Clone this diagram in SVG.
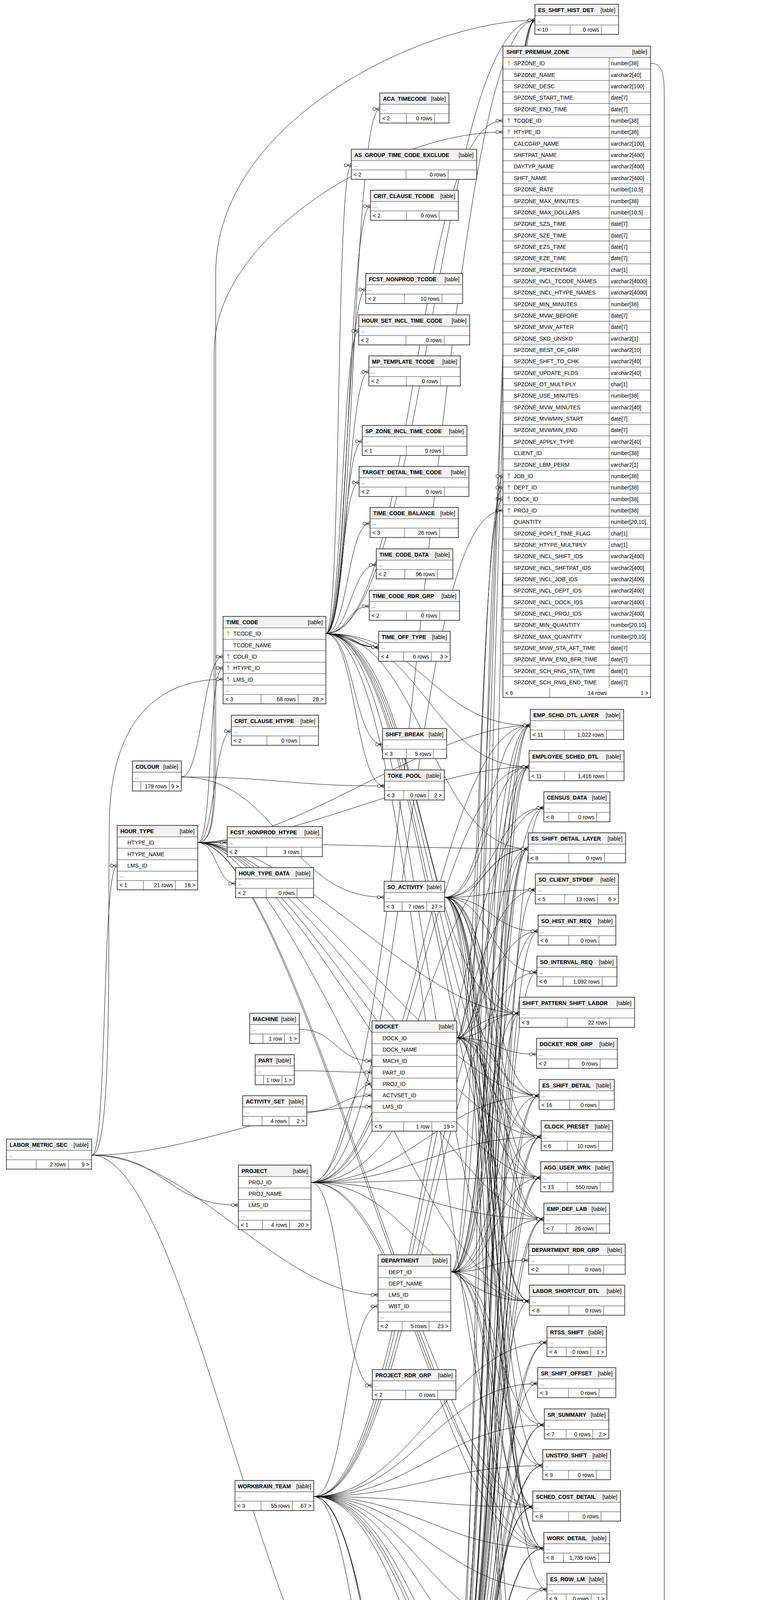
<svg xmlns="http://www.w3.org/2000/svg" width="1968" height="7233" viewBox="0 0 1968 7233">
<style>
.bx{fill:#fff}
.hd{fill:#f2f2f2}
.ln{fill:none;stroke:#333;stroke-width:1}
.ol{fill:none;stroke:#222;stroke-width:1.6}
text{font-family:"Liberation Sans",Arial,Helvetica,sans-serif;font-size:14px;fill:#000}
.b{font-weight:bold}
.r{text-anchor:end}
.d{font-size:12px}
.c{fill:none;stroke:#000;stroke-width:1;marker-end:url(#cf)}
.pk{color:#e2d200}
.fk{color:#a8a8a8}
</style>
<defs>
<marker id="cf" viewBox="-20 -7 21 14" refX="0" refY="0" markerWidth="21" markerHeight="14" markerUnits="userSpaceOnUse" orient="auto" overflow="visible">
<path d="M-10 0L0 -5M-10 0H0M-10 0L0 5" fill="none" stroke="#000" stroke-width="1"/>
<circle cx="-14" cy="0" r="4" fill="#fff" stroke="#000" stroke-width="1"/>
</marker>
<g id="key"><circle cx="0" cy="-3.5" r="3.2" fill="currentColor"/><path d="M0 -1V6M0 3H2.5M0 5.5H2.5" stroke="currentColor" stroke-width="1.4" fill="none"/></g>
</defs>
<rect width="1968" height="7233" fill="#fff"/>
<g id="connectors">
<path class="c" d="M834 1622C903 1622 903 279 972 279"/>
<path class="c" d="M834 1622C874 1622 859 423 899 423"/>
<path class="c" d="M834 1622C891 1622 891 528 948 528"/>
<path class="c" d="M834 1622C885 1622 885 741 936 741"/>
<path class="c" d="M834 1622C876 1622 876 847 918 847"/>
<path class="c" d="M834 1622C889 1622 889 952 944 952"/>
<path class="c" d="M834 1622C880 1622 880 1130 927 1130"/>
<path class="c" d="M834 1622C876 1622 876 1235 919 1235"/>
<path class="c" d="M834 1622C890 1622 890 1340 947 1340"/>
<path class="c" d="M834 1622C898 1622 898 1446 963 1446"/>
<path class="c" d="M834 1622C889 1622 889 1552 945 1552"/>
<path class="c" d="M834 1622C896 1622 896 1657 969 1657"/>
<path class="c" d="M834 1622C880 1622 920 1657 969 1657"/>
<path class="c" d="M834 1622C910 1622 900 1657 969 1657"/>
<path class="c" d="M834 1622C1060 1622 1060 309 1287 309"/>
<path class="c" d="M834 1622C906 1622 906 1906 979 1906"/>
<path class="c" d="M834 1622C909 1622 909 2012 984 2012"/>
<path class="c" d="M834 1622C1084 1622 1119 52 1369 52"/>
<path class="c" d="M834 1622C1084 1622 1107 1857 1357 1857"/>
<path class="c" d="M834 1622C1084 1622 1104 1963 1354 1963"/>
<path class="c" d="M834 1622C1084 1622 1102 2173 1352 2173"/>
<path class="c" d="M834 1622C1084 1622 1079 2594 1329 2594"/>
<path class="c" d="M834 1622C1084 1622 1130 2805 1380 2805"/>
<path class="c" d="M834 1622C1084 1622 1135 2910 1385 2910"/>
<path class="c" d="M834 1622C1084 1622 1134 3015 1384 3015"/>
<path class="c" d="M834 1622C1084 1622 1142 3121 1392 3121"/>
<path class="c" d="M834 1622C1084 1622 1105 3331 1355 3331"/>
<path class="c" d="M834 1622C1084 1622 1142 3964 1392 3964"/>
<path class="c" d="M506 2157C546 2157 531 1710 571 1710"/>
<path class="c" d="M506 2157C549 2157 549 1872 592 1872"/>
<path class="c" d="M506 2157C546 2157 541 2157 581.5 2157"/>
<path class="c" d="M506 2157C555 2157 555 2262 603 2262"/>
<path class="c" d="M506 2157C540 2157 548 2100 548 1950V900C548 600 1000 338 1287 338"/>
<path class="c" d="M506 2157C756 2157 1107 1857 1357 1857"/>
<path class="c" d="M506 2157C756 2157 1104 1963 1354 1963"/>
<path class="c" d="M506 2157C756 2157 1102 2173 1352 2173"/>
<path class="c" d="M506 2157C756 2157 1079 2594 1329 2594"/>
<path class="c" d="M506 2157C756 2157 1130 2805 1380 2805"/>
<path class="c" d="M506 2157C756 2157 1135 2910 1385 2910"/>
<path class="c" d="M506 2157C756 2157 1134 3015 1384 3015"/>
<path class="c" d="M506 2157C756 2157 1142 3121 1392 3121"/>
<path class="c" d="M506 2157C756 2157 1105 3331 1355 3331"/>
<path class="c" d="M506 2157C756 2157 1142 3964 1392 3964"/>
<path class="c" d="M506 2157C756 2157 1114 3858 1364 3858"/>
<path class="c" d="M506 2157C540 2157 552 2100 552 1950V700C552 300 1100 52 1369 52"/>
<path class="c" d="M464 1989C518 1989 518 1681 571 1681"/>
<path class="c" d="M464 1989C714 1989 734 2012 984 2012"/>
<path class="c" d="M464 1989C714 1989 733 2297 983 2297"/>
<path class="c" d="M235 2957C290 2957 275 2400 280 2100C284 1850 400 1739 571 1739"/>
<path class="c" d="M235 2957C275 2957 260 2216 300 2216"/>
<path class="c" d="M235 2957C485 2957 702 2833 952 2833"/>
<path class="c" d="M235 2957C423 2957 423 3085 610 3085"/>
<path class="c" d="M235 2957C485 2957 718 3315 967.5 3315"/>
<path class="c" d="M235 2957C485 2957 704 4444 954 4444"/>
<path class="c" d="M766 2635C859 2635 859 2716 952 2716"/>
<path class="c" d="M753 2741C853 2741 853 2745 952 2745"/>
<path class="c" d="M785 2846C869 2846 869 2804 952 2804"/>
<path class="c" d="M796 3027C874 3027 874 2775 952 2775"/>
<path class="c" d="M796 3027C1042 3027 1042 1307 1287 1307"/>
<path class="c" d="M796 3027C874 3027 875 3547 952.7 3547"/>
<path class="c" d="M796 3027C1046 3027 1107 1857 1357 1857"/>
<path class="c" d="M796 3027C1046 3027 1104 1963 1354 1963"/>
<path class="c" d="M796 3027C1046 3027 1102 2173 1352 2173"/>
<path class="c" d="M796 3027C1046 3027 1079 2594 1329 2594"/>
<path class="c" d="M796 3027C1046 3027 1130 2805 1380 2805"/>
<path class="c" d="M796 3027C1046 3027 1135 2910 1385 2910"/>
<path class="c" d="M796 3027C1046 3027 1134 3015 1384 3015"/>
<path class="c" d="M796 3027C1046 3027 1142 3121 1392 3121"/>
<path class="c" d="M796 3027C1046 3027 1105 3331 1355 3331"/>
<path class="c" d="M796 3027C1046 3027 1142 3964 1392 3964"/>
<path class="c" d="M796 3027C1046 3027 1114 3858 1364 3858"/>
<path class="c" d="M796 3027C1046 3027 1119 52 1369 52"/>
<path class="c" d="M1169 2657C1228 2657 1228 1277 1287 1277"/>
<path class="c" d="M1169 2657C1271 2657 1271 2699 1373 2699"/>
<path class="c" d="M1169 2657C1263 2657 1263 1857 1357 1857"/>
<path class="c" d="M1169 2657C1262 2657 1262 1963 1354 1963"/>
<path class="c" d="M1169 2657C1261 2657 1261 2173 1352 2173"/>
<path class="c" d="M1169 2657C1249 2657 1249 2594 1329 2594"/>
<path class="c" d="M1169 2657C1275 2657 1275 2805 1380 2805"/>
<path class="c" d="M1169 2657C1277 2657 1277 2910 1385 2910"/>
<path class="c" d="M1169 2657C1277 2657 1277 3015 1384 3015"/>
<path class="c" d="M1169 2657C1281 2657 1281 3121 1392 3121"/>
<path class="c" d="M1169 2657C1262 2657 1262 3331 1355 3331"/>
<path class="c" d="M1169 2657C1281 2657 1281 3964 1392 3964"/>
<path class="c" d="M1169 2657C1267 2657 1267 3858 1364 3858"/>
<path class="c" d="M1169 2657C1269 2657 1269 52 1369 52"/>
<path class="c" d="M1154 3256C1221 3256 1221 1248 1287 1248"/>
<path class="c" d="M1154 3256C1254 3256 1254 3226 1353 3226"/>
<path class="c" d="M1154 3256C1256 3256 1256 1857 1357 1857"/>
<path class="c" d="M1154 3256C1254 3256 1254 1963 1354 1963"/>
<path class="c" d="M1154 3256C1253 3256 1253 2173 1352 2173"/>
<path class="c" d="M1154 3256C1242 3256 1242 2594 1329 2594"/>
<path class="c" d="M1154 3256C1267 3256 1267 2805 1380 2805"/>
<path class="c" d="M1154 3256C1270 3256 1270 2910 1385 2910"/>
<path class="c" d="M1154 3256C1269 3256 1269 3015 1384 3015"/>
<path class="c" d="M1154 3256C1273 3256 1273 3121 1392 3121"/>
<path class="c" d="M1154 3256C1255 3256 1255 3331 1355 3331"/>
<path class="c" d="M1154 3256C1273 3256 1273 3964 1392 3964"/>
<path class="c" d="M1154 3256C1259 3256 1259 3858 1364 3858"/>
<path class="c" d="M1154 3256C1273 3256 1273 2068 1392 2068"/>
<path class="c" d="M1154 3256C1266 3256 1266 2384 1377 2384"/>
<path class="c" d="M1154 3256C1265 3256 1265 4597 1376 4597"/>
<path class="c" d="M1154 3256C1274 3256 1274 3648 1393 3648"/>
<path class="c" d="M1154 3256C1272 3256 1272 3752 1389 3752"/>
<path class="c" d="M1154 3256C1262 3256 1262 52 1369 52"/>
<path class="c" d="M803 3831C885 3831 886 3344 967.5 3344"/>
<path class="c" d="M803 3831C1000 3831 1100 7085 1250 7085H1732"/>
<path class="c" d="M803 3831C1053 3831 1142 2068 1392 2068"/>
<path class="c" d="M803 3831C1053 3831 1124 2489 1374 2489"/>
<path class="c" d="M803 3831C1053 3831 1127 2384 1377 2384"/>
<path class="c" d="M803 3831C1053 3831 1150 3437 1400 3437"/>
<path class="c" d="M803 3831C1053 3831 1126 3542 1376 3542"/>
<path class="c" d="M803 3831C1053 3831 1143 3648 1393 3648"/>
<path class="c" d="M803 3831C1053 3831 1139 3752 1389 3752"/>
<path class="c" d="M803 3831C1053 3831 1150 4069 1400 4069"/>
<path class="c" d="M803 3831C1053 3831 1117 4175 1367 4175"/>
<path class="c" d="M803 3831C1053 3831 1098 4280 1348 4280"/>
<path class="c" d="M803 3831C1053 3831 1080 4385 1330 4385"/>
<path class="c" d="M803 3831C1053 3831 1100 4491 1350 4491"/>
<path class="c" d="M803 3831C1053 3831 1118 4701 1368 4701"/>
<path class="c" d="M803 3831C1053 3831 1060 6701 1310 6701"/>
<path class="c" d="M803 3831C1053 3831 1111 6807 1361 6807"/>
<path class="c" d="M803 3831C1053 3831 1157 7019 1407 7019"/>
<path class="c" d="M803 3831C1053 3831 1120 2278 1370 2278"/>
<path class="c" d="M803 3831C1053 3831 1114 3858 1364 3858"/>
<path class="c" d="M803 3831C1053 3831 1142 3964 1392 3964"/>
<path class="c" d="M803 3831C1053 3831 1126 4597 1376 4597"/>
<path class="c" d="M1138 2297C1254 2297 1254 2278 1370 2278"/>
<path class="c" d="M1138 2297C1258 2297 1258 2384 1377 2384"/>
<path class="c" d="M1138 2297C1256 2297 1256 2489 1374 2489"/>
<path class="c" d="M1138 2297C1234 2297 1234 2594 1329 2594"/>
<path class="c" d="M1138 2297C1259 2297 1259 2805 1380 2805"/>
<path class="c" d="M1138 2297C1248 2297 1248 1857 1357 1857"/>
<path class="c" d="M1138 2297C1246 2297 1246 1963 1354 1963"/>
<path class="c" d="M1138 2297C1245 2297 1245 2173 1352 2173"/>
<path class="c" d="M1138 2297C1266 2297 1266 3648 1393 3648"/>
<path class="c" d="M1138 2297C1264 2297 1264 3752 1389 3752"/>
<path class="c" d="M1138 2297C1269 2297 1269 4069 1400 4069"/>
<path class="c" d="M1138 2297C1257 2297 1257 4597 1376 4597"/>
<path class="c" d="M1138 2297C1261 2297 1261 3015 1384 3015"/>
<path class="c" d="M1138 2297C1265 2297 1265 3121 1392 3121"/>
<path class="c" d="M1138 2297C1262 2297 1262 2910 1385 2910"/>
<path class="c" d="M1138 2297C1247 2297 1247 3331 1355 3331"/>
<path class="c" d="M1138 2297C1265 2297 1265 3964 1392 3964"/>
<path class="c" d="M1138 2297C1251 2297 1251 3858 1364 3858"/>
<path class="c" d="M1138 2297C1244 2297 1244 4491 1350 4491"/>
<path class="c" d="M1138 2297C1265 2297 1265 2068 1392 2068"/>
<path class="c" d="M1167 4385C1227 4385 1227 1219 1287 1219"/>
<path class="c" d="M1167 4385C1268 4385 1268 52 1369 52"/>
<path class="c" d="M1167 4385C1262 4385 1262 1857 1357 1857"/>
<path class="c" d="M1167 4385C1261 4385 1261 1963 1354 1963"/>
<path class="c" d="M1167 4385C1280 4385 1280 2068 1392 2068"/>
<path class="c" d="M1167 4385C1260 4385 1260 2173 1352 2173"/>
<path class="c" d="M1167 4385C1269 4385 1269 2278 1370 2278"/>
<path class="c" d="M1167 4385C1272 4385 1272 2384 1377 2384"/>
<path class="c" d="M1167 4385C1271 4385 1271 2489 1374 2489"/>
<path class="c" d="M1167 4385C1248 4385 1248 2594 1329 2594"/>
<path class="c" d="M1167 4385C1274 4385 1274 2805 1380 2805"/>
<path class="c" d="M1167 4385C1276 4385 1276 2910 1385 2910"/>
<path class="c" d="M1167 4385C1276 4385 1276 3015 1384 3015"/>
<path class="c" d="M1167 4385C1280 4385 1280 3121 1392 3121"/>
<path class="c" d="M1167 4385C1261 4385 1261 3331 1355 3331"/>
<path class="c" d="M1167 4385C1284 4385 1284 3437 1400 3437"/>
<path class="c" d="M1167 4385C1272 4385 1272 3542 1376 3542"/>
<path class="c" d="M1167 4385C1280 4385 1280 3648 1393 3648"/>
<path class="c" d="M1167 4385C1278 4385 1278 3752 1389 3752"/>
<path class="c" d="M1167 4385C1266 4385 1266 3858 1364 3858"/>
<path class="c" d="M1167 4385C1280 4385 1280 3964 1392 3964"/>
<path class="c" d="M1167 4385C1284 4385 1284 4069 1400 4069"/>
<path class="c" d="M1167 4385C1267 4385 1267 4175 1367 4175"/>
<path class="c" d="M1167 4385C1258 4385 1258 4280 1348 4280"/>
<path class="c" d="M1167 4385C1249 4385 1249 4385 1330 4385"/>
<path class="c" d="M1167 4385C1259 4385 1259 4491 1350 4491"/>
<path class="c" d="M1167 4385C1272 4385 1272 4597 1376 4597"/>
<path class="c" d="M1167 4385C1268 4385 1268 4701 1368 4701"/>
<path class="c" d="M1167 4385C1271 4385 1271 4807 1375 4807"/>
<path class="c" d="M1167 4385C1265 4385 1265 4912 1362.5 4912"/>
<path class="c" d="M1167 4385C1271 4385 1271 5018 1375 5018"/>
<path class="c" d="M1167 4385C1266 4385 1266 5124 1365.5 5124"/>
<path class="c" d="M1167 4385C1266 4385 1266 5228 1364.5 5228"/>
<path class="c" d="M1167 4385C1287 4385 1287 5333 1407 5333"/>
<path class="c" d="M1167 4385C1279 4385 1279 5438 1391 5438"/>
<path class="c" d="M1167 4385C1269 4385 1269 5543 1371 5543"/>
<path class="c" d="M1167 4385C1264 4385 1264 5649 1360 5649"/>
<path class="c" d="M1167 4385C1264 4385 1264 5754 1361 5754"/>
<path class="c" d="M1167 4385C1278 4385 1278 5859 1389 5859"/>
<path class="c" d="M1167 4385C1280 4385 1280 5964 1392 5964"/>
<path class="c" d="M1167 4385C1266 4385 1266 6070 1365 6070"/>
<path class="c" d="M1167 4385C1266 4385 1266 6175 1364 6175"/>
<path class="c" d="M1167 4385C1276 4385 1276 6280 1385 6280"/>
<path class="c" d="M1167 4385C1257 4385 1257 6386 1346 6386"/>
<path class="c" d="M1167 4385C1266 4385 1266 6491 1364 6491"/>
<path class="c" d="M1167 4385C1273 4385 1273 6596 1379 6596"/>
<path class="c" d="M1167 4385C1239 4385 1239 6701 1310 6701"/>
<path class="c" d="M1167 4385C1264 4385 1264 6807 1361 6807"/>
<path class="c" d="M1167 4385C1268 4385 1268 6912 1368 6912"/>
<path class="c" d="M1167 4385C1287 4385 1287 7019 1407 7019"/>
<path class="c" d="M1132 4576C1180 4576 1180 7115 1300 7115H1732"/>
<path class="c" d="M1132 4576C1245 4576 1245 1857 1357 1857"/>
<path class="c" d="M1132 4576C1243 4576 1243 1963 1354 1963"/>
<path class="c" d="M1132 4576C1242 4576 1242 2173 1352 2173"/>
<path class="c" d="M1132 4576C1256 4576 1256 2805 1380 2805"/>
<path class="c" d="M1132 4576C1259 4576 1259 2910 1385 2910"/>
<path class="c" d="M1132 4576C1258 4576 1258 3015 1384 3015"/>
<path class="c" d="M1132 4576C1262 4576 1262 3121 1392 3121"/>
<path class="c" d="M1132 4576C1241 4576 1241 4491 1350 4491"/>
<path class="c" d="M1132 4576C1259 4576 1259 6280 1385 6280"/>
<path class="c" d="M1132 4576C1239 4576 1239 6386 1346 6386"/>
<path class="c" d="M1132 4576C1248 4576 1248 6491 1364 6491"/>
<path class="c" d="M1132 4576C1247 4576 1247 5754 1361 5754"/>
<path class="c" d="M1132 4576C1221 4576 1221 6701 1310 6701"/>
<path class="c" d="M1132 4576C1262 4576 1262 3964 1392 3964"/>
<path class="c" d="M1132 4576C1248 4576 1248 3858 1364 3858"/>
<path class="c" d="M1132 4576C1261 4576 1261 3752 1389 3752"/>
<path class="c" d="M1132 4576C1263 4576 1263 3648 1393 3648"/>
<path class="c" d="M1132 4576C1251 4576 1251 52 1369 52"/>
<path class="c" d="M1132 4576C1266 4576 1266 3437 1400 3437"/>
<path class="c" d="M1132 4576C1256 4576 1256 6596 1379 6596"/>
<path class="c" d="M1665 162C1700 162 1700 200 1700 260V6960C1700 7040 1710 7056 1732 7056"/>
</g>

<g id="SHIFT_PREMIUM_ZONE" transform="translate(1287 118)">
<rect class="bx" width="378" height="1667.55"/><rect class="hd" width="378" height="29.3"/>
<path class="ln" d="M0 29.3h378m-378 29.35h378m-378 29.35h378m-378 29.35h378m-378 29.35h378m-378 29.35h378m-378 29.35h378m-378 29.35h378m-378 29.35h378m-378 29.35h378m-378 29.35h378m-378 29.35h378m-378 29.35h378m-378 29.35h378m-378 29.35h378m-378 29.35h378m-378 29.35h378m-378 29.35h378m-378 29.35h378m-378 29.35h378m-378 29.35h378m-378 29.35h378m-378 29.35h378m-378 29.35h378m-378 29.35h378m-378 29.35h378m-378 29.35h378m-378 29.35h378m-378 29.35h378m-378 29.35h378m-378 29.35h378m-378 29.35h378m-378 29.35h378m-378 29.35h378m-378 29.35h378m-378 29.35h378m-378 29.35h378m-378 29.35h378m-378 29.35h378m-378 29.35h378m-378 29.35h378m-378 29.35h378m-378 29.35h378m-378 29.35h378m-378 29.35h378m-378 29.35h378m-378 29.35h378m-378 29.35h378m-378 29.35h378m-378 29.35h378m-378 29.35h378m-378 29.35h378m-378 29.35h378m-378 29.35h378m-378 29.35h378M272 29.3V1643.55M120 1643.55V1667.55"/>
<rect class="ol" width="378" height="1667.55"/>
<text class="b" x="9" y="20">SHIFT_PREMIUM_ZONE</text><text class="r" x="369" y="20">[table]</text>
<use href="#key" x="15" y="44" class="pk"/>
<use href="#key" x="15" y="190.75" class="fk"/>
<use href="#key" x="15" y="220.1" class="fk"/>
<use href="#key" x="15" y="1100.6" class="fk"/>
<use href="#key" x="15" y="1129.95" class="fk"/>
<use href="#key" x="15" y="1159.3" class="fk"/>
<use href="#key" x="15" y="1188.65" class="fk"/>
<text x="28" y="49.3"><tspan x="28">SPZONE_ID</tspan><tspan x="28" dy="29.35">SPZONE_NAME</tspan><tspan x="28" dy="29.35">SPZONE_DESC</tspan><tspan x="28" dy="29.35">SPZONE_START_TIME</tspan><tspan x="28" dy="29.35">SPZONE_END_TIME</tspan><tspan x="28" dy="29.35">TCODE_ID</tspan><tspan x="28" dy="29.35">HTYPE_ID</tspan><tspan x="28" dy="29.35">CALCGRP_NAME</tspan><tspan x="28" dy="29.35">SHFTPAT_NAME</tspan><tspan x="28" dy="29.35">DAYTYP_NAME</tspan><tspan x="28" dy="29.35">SHFT_NAME</tspan><tspan x="28" dy="29.35">SPZONE_RATE</tspan><tspan x="28" dy="29.35">SPZONE_MAX_MINUTES</tspan><tspan x="28" dy="29.35">SPZONE_MAX_DOLLARS</tspan><tspan x="28" dy="29.35">SPZONE_SZS_TIME</tspan><tspan x="28" dy="29.35">SPZONE_SZE_TIME</tspan><tspan x="28" dy="29.35">SPZONE_EZS_TIME</tspan><tspan x="28" dy="29.35">SPZONE_EZE_TIME</tspan><tspan x="28" dy="29.35">SPZONE_PERCENTAGE</tspan><tspan x="28" dy="29.35">SPZONE_INCL_TCODE_NAMES</tspan><tspan x="28" dy="29.35">SPZONE_INCL_HTYPE_NAMES</tspan><tspan x="28" dy="29.35">SPZONE_MIN_MINUTES</tspan><tspan x="28" dy="29.35">SPZONE_MVW_BEFORE</tspan><tspan x="28" dy="29.35">SPZONE_MVW_AFTER</tspan><tspan x="28" dy="29.35">SPZONE_SKD_UNSKD</tspan><tspan x="28" dy="29.35">SPZONE_BEST_OF_GRP</tspan><tspan x="28" dy="29.35">SPZONE_SHFT_TO_CHK</tspan><tspan x="28" dy="29.35">SPZONE_UPDATE_FLDS</tspan><tspan x="28" dy="29.35">SPZONE_OT_MULTIPLY</tspan><tspan x="28" dy="29.35">SPZONE_USE_MINUTES</tspan><tspan x="28" dy="29.35">SPZONE_MVW_MINUTES</tspan><tspan x="28" dy="29.35">SPZONE_MVWMIN_START</tspan><tspan x="28" dy="29.35">SPZONE_MVWMIN_END</tspan><tspan x="28" dy="29.35">SPZONE_APPLY_TYPE</tspan><tspan x="28" dy="29.35">CLIENT_ID</tspan><tspan x="28" dy="29.35">SPZONE_LBM_PERM</tspan><tspan x="28" dy="29.35">JOB_ID</tspan><tspan x="28" dy="29.35">DEPT_ID</tspan><tspan x="28" dy="29.35">DOCK_ID</tspan><tspan x="28" dy="29.35">PROJ_ID</tspan><tspan x="28" dy="29.35">QUANTITY</tspan><tspan x="28" dy="29.35">SPZONE_POPLT_TIME_FLAG</tspan><tspan x="28" dy="29.35">SPZONE_HTYPE_MULTIPLY</tspan><tspan x="28" dy="29.35">SPZONE_INCL_SHIFT_IDS</tspan><tspan x="28" dy="29.35">SPZONE_INCL_SHFTPAT_IDS</tspan><tspan x="28" dy="29.35">SPZONE_INCL_JOB_IDS</tspan><tspan x="28" dy="29.35">SPZONE_INCL_DEPT_IDS</tspan><tspan x="28" dy="29.35">SPZONE_INCL_DOCK_IDS</tspan><tspan x="28" dy="29.35">SPZONE_INCL_PROJ_IDS</tspan><tspan x="28" dy="29.35">SPZONE_MIN_QUANTITY</tspan><tspan x="28" dy="29.35">SPZONE_MAX_QUANTITY</tspan><tspan x="28" dy="29.35">SPZONE_MVW_STA_AFT_TIME</tspan><tspan x="28" dy="29.35">SPZONE_MVW_END_BFR_TIME</tspan><tspan x="28" dy="29.35">SPZONE_SCH_RNG_STA_TIME</tspan><tspan x="28" dy="29.35">SPZONE_SCH_RNG_END_TIME</tspan></text>
<text x="276" y="49.3"><tspan x="276">number[38]</tspan><tspan x="276" dy="29.35">varchar2[40]</tspan><tspan x="276" dy="29.35">varchar2[100]</tspan><tspan x="276" dy="29.35">date[7]</tspan><tspan x="276" dy="29.35">date[7]</tspan><tspan x="276" dy="29.35">number[38]</tspan><tspan x="276" dy="29.35">number[38]</tspan><tspan x="276" dy="29.35">varchar2[100]</tspan><tspan x="276" dy="29.35">varchar2[400]</tspan><tspan x="276" dy="29.35">varchar2[400]</tspan><tspan x="276" dy="29.35">varchar2[400]</tspan><tspan x="276" dy="29.35">number[10,5]</tspan><tspan x="276" dy="29.35">number[38]</tspan><tspan x="276" dy="29.35">number[10,5]</tspan><tspan x="276" dy="29.35">date[7]</tspan><tspan x="276" dy="29.35">date[7]</tspan><tspan x="276" dy="29.35">date[7]</tspan><tspan x="276" dy="29.35">date[7]</tspan><tspan x="276" dy="29.35">char[1]</tspan><tspan x="276" dy="29.35">varchar2[4000]</tspan><tspan x="276" dy="29.35">varchar2[4000]</tspan><tspan x="276" dy="29.35">number[38]</tspan><tspan x="276" dy="29.35">date[7]</tspan><tspan x="276" dy="29.35">date[7]</tspan><tspan x="276" dy="29.35">varchar2[1]</tspan><tspan x="276" dy="29.35">varchar2[10]</tspan><tspan x="276" dy="29.35">varchar2[40]</tspan><tspan x="276" dy="29.35">varchar2[40]</tspan><tspan x="276" dy="29.35">char[1]</tspan><tspan x="276" dy="29.35">number[38]</tspan><tspan x="276" dy="29.35">varchar2[40]</tspan><tspan x="276" dy="29.35">date[7]</tspan><tspan x="276" dy="29.35">date[7]</tspan><tspan x="276" dy="29.35">varchar2[40]</tspan><tspan x="276" dy="29.35">number[38]</tspan><tspan x="276" dy="29.35">varchar2[1]</tspan><tspan x="276" dy="29.35">number[38]</tspan><tspan x="276" dy="29.35">number[38]</tspan><tspan x="276" dy="29.35">number[38]</tspan><tspan x="276" dy="29.35">number[38]</tspan><tspan x="276" dy="29.35">number[20,10]</tspan><tspan x="276" dy="29.35">char[1]</tspan><tspan x="276" dy="29.35">char[1]</tspan><tspan x="276" dy="29.35">varchar2[400]</tspan><tspan x="276" dy="29.35">varchar2[400]</tspan><tspan x="276" dy="29.35">varchar2[400]</tspan><tspan x="276" dy="29.35">varchar2[400]</tspan><tspan x="276" dy="29.35">varchar2[400]</tspan><tspan x="276" dy="29.35">varchar2[400]</tspan><tspan x="276" dy="29.35">number[20,10]</tspan><tspan x="276" dy="29.35">number[20,10]</tspan><tspan x="276" dy="29.35">date[7]</tspan><tspan x="276" dy="29.35">date[7]</tspan><tspan x="276" dy="29.35">date[7]</tspan><tspan x="276" dy="29.35">date[7]</tspan></text>
<text x="6" y="1660.5">&lt; 6</text><text class="r" x="266" y="1660.5">14 rows</text><text class="r" x="372" y="1660.5">1 &gt;</text>
</g>

<g id="TIME_CODE" transform="translate(571 1578)">
<rect class="bx" width="263" height="223.8"/><rect class="hd" width="263" height="29.3"/>
<path class="ln" d="M0 29.3H263M0 58.6H263M0 87.9H263M0 117.2H263M0 146.5H263M0 175.8H263M0 199.8H263M97 199.8V223.8M192 199.8V223.8"/>
<rect class="ol" width="263" height="223.8"/>
<text class="b" x="8" y="20">TIME_CODE</text><text class="r" x="255" y="20">[table]</text>
<use href="#key" x="13" y="44" class="pk"/><use href="#key" x="13" y="102.6" class="fk"/><use href="#key" x="13" y="131.9" class="fk"/><use href="#key" x="13" y="161.2" class="fk"/>
<text x="26" y="49.3">TCODE_ID</text><text x="26" y="78.6">TCODE_NAME</text><text x="26" y="107.9">COLR_ID</text><text x="26" y="137.2">HTYPE_ID</text><text x="26" y="166.5">LMS_ID</text>
<text class="d" x="6" y="191.8">...</text>
<text x="6" y="216.8">&lt; 3</text><text class="r" x="186" y="216.8">68 rows</text><text class="r" x="257" y="216.8">28 &gt;</text>
</g>

<g id="HOUR_TYPE" transform="translate(300 2113)">
<rect class="bx" width="206" height="165.2"/><rect class="hd" width="206" height="29.3"/>
<path class="ln" d="M0 29.3H206M0 58.6H206M0 87.9H206M0 117.2H206M0 141.2H206M67 141.2V165.2M149 141.2V165.2"/>
<rect class="ol" width="206" height="165.2"/>
<text class="b" x="8" y="20">HOUR_TYPE</text><text class="r" x="198" y="20">[table]</text>
<text x="26" y="49.3">HTYPE_ID</text><text x="26" y="78.6">HTYPE_NAME</text><text x="26" y="107.9">LMS_ID</text>
<text class="d" x="6" y="133.2">...</text>
<text x="6" y="158.2">&lt; 1</text><text class="r" x="143" y="158.2">21 rows</text><text class="r" x="200" y="158.2">18 &gt;</text>
</g>

<g id="DOCKET" transform="translate(952 2613.4)">
<rect class="bx" width="217" height="282.4"/><rect class="hd" width="217" height="29.3"/>
<path class="ln" d="M0 29.3H217M0 58.6H217M0 87.9H217M0 117.2H217M0 146.5H217M0 175.8H217M0 205.1H217M0 234.4H217M0 258.4H217M81 258.4V282.4M153 258.4V282.4"/>
<rect class="ol" width="217" height="282.4"/>
<text class="b" x="8" y="20">DOCKET</text><text class="r" x="209" y="20">[table]</text>
<text x="27" y="49.3">DOCK_ID</text><text x="27" y="78.6">DOCK_NAME</text><text x="27" y="107.9">MACH_ID</text><text x="27" y="137.2">PART_ID</text><text x="27" y="166.5">PROJ_ID</text><text x="27" y="195.8">ACTVSET_ID</text><text x="27" y="225.1">LMS_ID</text>
<text class="d" x="6" y="250.4">...</text>
<text x="6" y="275.4">&lt; 5</text><text class="r" x="147" y="275.4">1 row</text><text class="r" x="211" y="275.4">19 &gt;</text>
</g>

<g id="PROJECT" transform="translate(610 2982.6)">
<rect class="bx" width="186" height="165.2"/><rect class="hd" width="186" height="29.3"/>
<path class="ln" d="M0 29.3H186M0 58.6H186M0 87.9H186M0 117.2H186M0 141.2H186M62 141.2V165.2M131 141.2V165.2"/>
<rect class="ol" width="186" height="165.2"/>
<text class="b" x="8" y="20">PROJECT</text><text class="r" x="178" y="20">[table]</text>
<text x="26" y="49.3">PROJ_ID</text><text x="26" y="78.6">PROJ_NAME</text><text x="26" y="107.9">LMS_ID</text>
<text class="d" x="6" y="133.2">...</text>
<text x="6" y="158.2">&lt; 1</text><text class="r" x="125" y="158.2">4 rows</text><text class="r" x="180" y="158.2">20 &gt;</text>
</g>

<g id="DEPARTMENT" transform="translate(967.5 3212.3)">
<rect class="bx" width="186" height="194.5"/><rect class="hd" width="186" height="29.3"/>
<path class="ln" d="M0 29.3H186M0 58.6H186M0 87.9H186M0 117.2H186M0 146.5H186M0 170.5H186M61.5 170.5V194.5M130.5 170.5V194.5"/>
<rect class="ol" width="186" height="194.5"/>
<text class="b" x="8" y="20">DEPARTMENT</text><text class="r" x="178" y="20">[table]</text>
<text x="27" y="49.3">DEPT_ID</text><text x="27" y="78.6">DEPT_NAME</text><text x="27" y="107.9">LMS_ID</text><text x="27" y="137.2">WBT_ID</text>
<text class="d" x="6" y="162.5">...</text>
<text x="6" y="187.5">&lt; 2</text><text class="r" x="124.5" y="187.5">5 rows</text><text class="r" x="180" y="187.5">23 &gt;</text>
</g>

<g id="JOB" transform="translate(954.4 4341.4)">
<rect class="bx" width="212" height="165.2"/><rect class="hd" width="212" height="29.3"/>
<path class="ln" d="M0 29.3H212M0 58.6H212M0 87.9H212M0 117.2H212M0 141.2H212M74.6 141.2V165.2M151.1 141.2V165.2"/>
<rect class="ol" width="212" height="165.2"/>
<text class="b" x="8" y="20">JOB</text><text class="r" x="204" y="20">[table]</text>
<text x="26" y="49.3">JOB_ID</text><text x="26" y="78.6">JOB_NAME</text><text x="26" y="107.9">LMS_ID</text>
<text class="d" x="6" y="133.2">...</text>
<text x="6" y="158.2">&lt; 1</text><text class="r" x="145" y="158.2">9 rows</text><text class="r" x="206" y="158.2">52 &gt;</text>
</g>

<g id="EMP_SP_ZONE" transform="translate(1732.4 6982.6)">
<rect class="bx" width="220.3" height="194.5"/><rect class="hd" width="220.3" height="29.3"/>
<path class="ln" d="M0 29.3H220.3M0 58.6H220.3M0 87.9H220.3M0 117.2H220.3M0 146.5H220.3M0 170.5H220.3M89.6 170.5V194.5M172.6 170.5V194.5"/>
<rect class="ol" width="220.3" height="194.5"/>
<text class="b" x="8" y="20">EMP_SP_ZONE</text><text class="r" x="212" y="20">[table]</text>
<text x="27" y="49.3">EMPSPZONE_ID</text><text x="27" y="78.6">SPZONE_ID</text><text x="27" y="107.9">WBT_ID</text><text x="27" y="137.2">EMP_ID</text>
<text class="d" x="6" y="162.5">...</text>
<text x="6" y="187.5">&lt; 3</text><text class="r" x="166.6" y="187.5">0 rows</text>
</g>

<g id="ES_SHIFT_HIST_DET" transform="translate(1369 11)"><rect class="bx" width="214" height="77"/><rect class="hd" width="214" height="29"/><path class="ln" d="M0 29H214M0 53H214M90 53V77M170 53V77"/><rect class="ol" width="214" height="77"/><text class="b" x="8" y="20">ES_SHIFT_HIST_DET</text><text class="r" x="206" y="20">[table]</text><text class="d" x="6" y="45">...</text><text x="6" y="70">&lt; 10</text><text class="r" x="164" y="70">0 rows</text></g>
<g id="ACA_TIMECODE" transform="translate(972 238)"><rect class="bx" width="177" height="77"/><rect class="hd" width="177" height="29"/><path class="ln" d="M0 29H177M0 53H177M68 53V77M140 53V77"/><rect class="ol" width="177" height="77"/><text class="b" x="8" y="20">ACA_TIMECODE</text><text class="r" x="169" y="20">[table]</text><text class="d" x="6" y="45">...</text><text x="6" y="70">&lt; 2</text><text class="r" x="134" y="70">0 rows</text></g>
<g id="AS_GROUP_TIME_CODE_EXCLUDE" transform="translate(899 382)"><rect class="bx" width="321" height="77"/><rect class="hd" width="321" height="29"/><path class="ln" d="M0 29H321M0 53H321M140 53V77M248 53V77"/><rect class="ol" width="321" height="77"/><text class="b" x="8" y="20">AS_GROUP_TIME_CODE_EXCLUDE</text><text class="r" x="313" y="20">[table]</text><text class="d" x="6" y="45">...</text><text x="6" y="70">&lt; 2</text><text class="r" x="242" y="70">0 rows</text></g>
<g id="CRIT_CLAUSE_TCODE" transform="translate(948 487)"><rect class="bx" width="225" height="77"/><rect class="hd" width="225" height="29"/><path class="ln" d="M0 29H225M0 53H225M92 53V77M176 53V77"/><rect class="ol" width="225" height="77"/><text class="b" x="8" y="20">CRIT_CLAUSE_TCODE</text><text class="r" x="217" y="20">[table]</text><text class="d" x="6" y="45">...</text><text x="6" y="70">&lt; 2</text><text class="r" x="170" y="70">0 rows</text></g>
<g id="FCST_NONPROD_TCODE" transform="translate(936 700)"><rect class="bx" width="248" height="77"/><rect class="hd" width="248" height="29"/><path class="ln" d="M0 29H248M0 53H248M99 53V77M195 53V77"/><rect class="ol" width="248" height="77"/><text class="b" x="8" y="20">FCST_NONPROD_TCODE</text><text class="r" x="240" y="20">[table]</text><text class="d" x="6" y="45">...</text><text x="6" y="70">&lt; 2</text><text class="r" x="189" y="70">10 rows</text></g>
<g id="HOUR_SET_INCL_TIME_CODE" transform="translate(918 806)"><rect class="bx" width="284" height="77"/><rect class="hd" width="284" height="29"/><path class="ln" d="M0 29H284M0 53H284M121 53V77M219 53V77"/><rect class="ol" width="284" height="77"/><text class="b" x="8" y="20">HOUR_SET_INCL_TIME_CODE</text><text class="r" x="276" y="20">[table]</text><text class="d" x="6" y="45">...</text><text x="6" y="70">&lt; 2</text><text class="r" x="213" y="70">0 rows</text></g>
<g id="MP_TEMPLATE_TCODE" transform="translate(944 911)"><rect class="bx" width="234" height="77"/><rect class="hd" width="234" height="29"/><path class="ln" d="M0 29H234M0 53H234M96 53V77M183 53V77"/><rect class="ol" width="234" height="77"/><text class="b" x="8" y="20">MP_TEMPLATE_TCODE</text><text class="r" x="226" y="20">[table]</text><text class="d" x="6" y="45">...</text><text x="6" y="70">&lt; 2</text><text class="r" x="177" y="70">0 rows</text></g>
<g id="SP_ZONE_INCL_TIME_CODE" transform="translate(927 1089)"><rect class="bx" width="268" height="77"/><rect class="hd" width="268" height="29"/><path class="ln" d="M0 29H268M0 53H268M113 53V77M208 53V77"/><rect class="ol" width="268" height="77"/><text class="b" x="8" y="20">SP_ZONE_INCL_TIME_CODE</text><text class="r" x="260" y="20">[table]</text><text class="d" x="6" y="45">...</text><text x="6" y="70">&lt; 1</text><text class="r" x="202" y="70">0 rows</text></g>
<g id="TARGET_DETAIL_TIME_CODE" transform="translate(919 1194)"><rect class="bx" width="281" height="77"/><rect class="hd" width="281" height="29"/><path class="ln" d="M0 29H281M0 53H281M120 53V77M218 53V77"/><rect class="ol" width="281" height="77"/><text class="b" x="8" y="20">TARGET_DETAIL_TIME_CODE</text><text class="r" x="273" y="20">[table]</text><text class="d" x="6" y="45">...</text><text x="6" y="70">&lt; 2</text><text class="r" x="212" y="70">0 rows</text></g>
<g id="TIME_CODE_BALANCE" transform="translate(947 1299)"><rect class="bx" width="226" height="77"/><rect class="hd" width="226" height="29"/><path class="ln" d="M0 29H226M0 53H226M88 53V77M178 53V77"/><rect class="ol" width="226" height="77"/><text class="b" x="8" y="20">TIME_CODE_BALANCE</text><text class="r" x="218" y="20">[table]</text><text class="d" x="6" y="45">...</text><text x="6" y="70">&lt; 3</text><text class="r" x="172" y="70">26 rows</text></g>
<g id="TIME_CODE_DATA" transform="translate(963 1405)"><rect class="bx" width="196" height="77"/><rect class="hd" width="196" height="29"/><path class="ln" d="M0 29H196M0 53H196M73 53V77M156 53V77"/><rect class="ol" width="196" height="77"/><text class="b" x="8" y="20">TIME_CODE_DATA</text><text class="r" x="188" y="20">[table]</text><text class="d" x="6" y="45">...</text><text x="6" y="70">&lt; 2</text><text class="r" x="150" y="70">96 rows</text></g>
<g id="TIME_CODE_RDR_GRP" transform="translate(945 1511)"><rect class="bx" width="231" height="77"/><rect class="hd" width="231" height="29"/><path class="ln" d="M0 29H231M0 53H231M95 53V77M180 53V77"/><rect class="ol" width="231" height="77"/><text class="b" x="8" y="20">TIME_CODE_RDR_GRP</text><text class="r" x="223" y="20">[table]</text><text class="d" x="6" y="45">...</text><text x="6" y="70">&lt; 2</text><text class="r" x="174" y="70">0 rows</text></g>
<g id="TIME_OFF_TYPE" transform="translate(969 1616)"><rect class="bx" width="183" height="77"/><rect class="hd" width="183" height="29"/><path class="ln" d="M0 29H183M0 53H183M64 53V77M135 53V77"/><rect class="ol" width="183" height="77"/><text class="b" x="8" y="20">TIME_OFF_TYPE</text><text class="r" x="175" y="20">[table]</text><text class="d" x="6" y="45">...</text><text x="6" y="70">&lt; 4</text><text class="r" x="129" y="70">6 rows</text><text class="r" x="177" y="70">3 &gt;</text></g>
<g id="CRIT_CLAUSE_HTYPE" transform="translate(592 1831)"><rect class="bx" width="223" height="77"/><rect class="hd" width="223" height="29"/><path class="ln" d="M0 29H223M0 53H223M91 53V77M175 53V77"/><rect class="ol" width="223" height="77"/><text class="b" x="8" y="20">CRIT_CLAUSE_HTYPE</text><text class="r" x="215" y="20">[table]</text><text class="d" x="6" y="45">...</text><text x="6" y="70">&lt; 2</text><text class="r" x="169" y="70">0 rows</text></g>
<g id="COLOUR" transform="translate(339 1948)"><rect class="bx" width="125" height="77"/><rect class="hd" width="125" height="29"/><path class="ln" d="M0 29H125M0 53H125M21.5 53V77M94 53V77"/><rect class="ol" width="125" height="77"/><text class="b" x="8" y="20">COLOUR</text><text class="r" x="117" y="20">[table]</text><text class="d" x="6" y="45">...</text><text class="r" x="88" y="70">179 rows</text><text class="r" x="119" y="70">9 &gt;</text></g>
<g id="FCST_NONPROD_HTYPE" transform="translate(581.5 2116)"><rect class="bx" width="243.5" height="77"/><rect class="hd" width="243.5" height="29"/><path class="ln" d="M0 29H243.5M0 53H243.5M101 53V77M190.5 53V77"/><rect class="ol" width="243.5" height="77"/><text class="b" x="8" y="20">FCST_NONPROD_HTYPE</text><text class="r" x="235.5" y="20">[table]</text><text class="d" x="6" y="45">...</text><text x="6" y="70">&lt; 2</text><text class="r" x="184.5" y="70">3 rows</text></g>
<g id="HOUR_TYPE_DATA" transform="translate(603 2221)"><rect class="bx" width="199.5" height="77"/><rect class="hd" width="199.5" height="29"/><path class="ln" d="M0 29H199.5M0 53H199.5M78 53V77M157 53V77"/><rect class="ol" width="199.5" height="77"/><text class="b" x="8" y="20">HOUR_TYPE_DATA</text><text class="r" x="191.5" y="20">[table]</text><text class="d" x="6" y="45">...</text><text x="6" y="70">&lt; 2</text><text class="r" x="151" y="70">0 rows</text></g>
<g id="MACHINE" transform="translate(639 2594)"><rect class="bx" width="127" height="77"/><rect class="hd" width="127" height="29"/><path class="ln" d="M0 29H127M0 53H127M34 53V77M89 53V77"/><rect class="ol" width="127" height="77"/><text class="b" x="8" y="20">MACHINE</text><text class="r" x="119" y="20">[table]</text><text class="d" x="6" y="45">...</text><text class="r" x="83" y="70">1 row</text><text class="r" x="121" y="70">1 &gt;</text></g>
<g id="PART" transform="translate(653 2700)"><rect class="bx" width="100" height="77"/><rect class="hd" width="100" height="29"/><path class="ln" d="M0 29H100M0 53H100M21.5 53V77M68.6 53V77"/><rect class="ol" width="100" height="77"/><text class="b" x="8" y="20">PART</text><text class="r" x="92" y="20">[table]</text><text class="d" x="6" y="45">...</text><text class="r" x="62.6" y="70">1 row</text><text class="r" x="94" y="70">1 &gt;</text></g>
<g id="SHIFT_BREAK" transform="translate(979 1865)"><rect class="bx" width="164" height="77"/><rect class="hd" width="164" height="29"/><path class="ln" d="M0 29H164M0 53H164M61 53V77M130 53V77"/><rect class="ol" width="164" height="77"/><text class="b" x="8" y="20">SHIFT_BREAK</text><text class="r" x="156" y="20">[table]</text><text class="d" x="6" y="45">...</text><text x="6" y="70">&lt; 3</text><text class="r" x="124" y="70">5 rows</text></g>
<g id="TOKE_POOL" transform="translate(984 1971)"><rect class="bx" width="153" height="77"/><rect class="hd" width="153" height="29"/><path class="ln" d="M0 29H153M0 53H153M49 53V77M113 53V77"/><rect class="ol" width="153" height="77"/><text class="b" x="8" y="20">TOKE_POOL</text><text class="r" x="145" y="20">[table]</text><text class="d" x="6" y="45">...</text><text x="6" y="70">&lt; 3</text><text class="r" x="107" y="70">0 rows</text><text class="r" x="147" y="70">2 &gt;</text></g>
<g id="SO_ACTIVITY" transform="translate(983 2256)"><rect class="bx" width="155" height="77"/><rect class="hd" width="155" height="29"/><path class="ln" d="M0 29H155M0 53H155M46 53V77M109 53V77"/><rect class="ol" width="155" height="77"/><text class="b" x="8" y="20">SO_ACTIVITY</text><text class="r" x="147" y="20">[table]</text><text class="d" x="6" y="45">...</text><text x="6" y="70">&lt; 3</text><text class="r" x="103" y="70">7 rows</text><text class="r" x="149" y="70">27 &gt;</text></g>
<g id="LABOR_METRIC_SEC" transform="translate(16.5 2916)"><rect class="bx" width="218" height="77"/><rect class="hd" width="218" height="29"/><path class="ln" d="M0 29H218M0 53H218M76.5 53V77M158.5 53V77"/><rect class="ol" width="218" height="77"/><text class="b" x="8" y="20">LABOR_METRIC_SEC</text><text class="r" x="210" y="20">[table]</text><text class="d" x="6" y="45">...</text><text class="r" x="152.5" y="70">2 rows</text><text class="r" x="212" y="70">9 &gt;</text></g>
<g id="ACTIVITY_SET" transform="translate(621 2805)"><rect class="bx" width="164" height="77"/><rect class="hd" width="164" height="29"/><path class="ln" d="M0 29H164M0 53H164M49.5 53V77M118.6 53V77"/><rect class="ol" width="164" height="77"/><text class="b" x="8" y="20">ACTIVITY_SET</text><text class="r" x="156" y="20">[table]</text><text class="d" x="6" y="45">...</text><text class="r" x="112.6" y="70">4 rows</text><text class="r" x="158" y="70">2 &gt;</text></g>
<g id="PROJECT_RDR_GRP" transform="translate(952.7 3506)"><rect class="bx" width="214" height="77"/><rect class="hd" width="214" height="29"/><path class="ln" d="M0 29H214M0 53H214M85.3 53V77M167.3 53V77"/><rect class="ol" width="214" height="77"/><text class="b" x="8" y="20">PROJECT_RDR_GRP</text><text class="r" x="206" y="20">[table]</text><text class="d" x="6" y="45">...</text><text x="6" y="70">&lt; 2</text><text class="r" x="161.3" y="70">0 rows</text></g>
<g id="WORKBRAIN_TEAM" transform="translate(601.4 3790)"><rect class="bx" width="201.6" height="77"/><rect class="hd" width="201.6" height="29"/><path class="ln" d="M0 29H201.6M0 53H201.6M66.6 53V77M146.6 53V77"/><rect class="ol" width="201.6" height="77"/><text class="b" x="7" y="20">WORKBRAIN_TEAM</text><text class="r" x="195" y="20">[table]</text><text class="d" x="6" y="45">...</text><text x="6" y="70">&lt; 3</text><text class="r" x="140.6" y="70">55 rows</text><text class="r" x="195.6" y="70">67 &gt;</text></g>
<g id="EMPLOYEE" transform="translate(988 4535)"><rect class="bx" width="144" height="77"/><rect class="hd" width="144" height="29"/><path class="ln" d="M0 29H144M0 53H144M37 53V77M102.5 53V77"/><rect class="ol" width="144" height="77"/><text class="b" x="8" y="20">EMPLOYEE</text><text class="r" x="136" y="20">[table]</text><text class="d" x="6" y="45">...</text><text x="6" y="70">&lt; 6</text><text class="r" x="96.5" y="70">27 rows</text><text class="r" x="138" y="70">98 &gt;</text></g>

<g id="EMP_SCHD_DTL_LAYER" transform="translate(1357 1816)"><rect class="bx" width="239" height="77"/><rect class="hd" width="239" height="29"/><path class="ln" d="M0 29H239M0 53H239M88 53V77M195 53V77"/><rect class="ol" width="239" height="77"/><text class="b" x="8" y="20">EMP_SCHD_DTL_LAYER</text><text class="r" x="231" y="20">[table]</text><text class="d" x="6" y="45">...</text><text x="6" y="70">&lt; 11</text><text class="r" x="189" y="70">1,022 rows</text></g>
<g id="EMPLOYEE_SCHED_DTL" transform="translate(1354 1921.6)"><rect class="bx" width="243" height="77"/><rect class="hd" width="243" height="29"/><path class="ln" d="M0 29H243M0 53H243M91 53V77M199 53V77"/><rect class="ol" width="243" height="77"/><text class="b" x="8" y="20">EMPLOYEE_SCHED_DTL</text><text class="r" x="235" y="20">[table]</text><text class="d" x="6" y="45">...</text><text x="6" y="70">&lt; 11</text><text class="r" x="193" y="70">1,416 rows</text></g>
<g id="CENSUS_DATA" transform="translate(1391.7 2026.8)"><rect class="bx" width="169.3" height="77"/><rect class="hd" width="169.3" height="29"/><path class="ln" d="M0 29H169.3M0 53H169.3M64 53V77M135.3 53V77"/><rect class="ol" width="169.3" height="77"/><text class="b" x="8" y="20">CENSUS_DATA</text><text class="r" x="161.3" y="20">[table]</text><text class="d" x="6" y="45">...</text><text x="6" y="70">&lt; 8</text><text class="r" x="129.3" y="70">0 rows</text></g>
<g id="ES_SHIFT_DETAIL_LAYER" transform="translate(1351.7 2132)"><rect class="bx" width="249.3" height="77"/><rect class="hd" width="249.3" height="29"/><path class="ln" d="M0 29H249.3M0 53H249.3M104 53V77M195.3 53V77"/><rect class="ol" width="249.3" height="77"/><text class="b" x="8" y="20">ES_SHIFT_DETAIL_LAYER</text><text class="r" x="241.3" y="20">[table]</text><text class="d" x="6" y="45">...</text><text x="6" y="70">&lt; 8</text><text class="r" x="189.3" y="70">0 rows</text></g>
<g id="SO_CLIENT_STFDEF" transform="translate(1370 2237)"><rect class="bx" width="212.7" height="77"/><rect class="hd" width="212.7" height="29"/><path class="ln" d="M0 29H212.7M0 53H212.7M75 53V77M159 53V77"/><rect class="ol" width="212.7" height="77"/><text class="b" x="8" y="20">SO_CLIENT_STFDEF</text><text class="r" x="204.7" y="20">[table]</text><text class="d" x="6" y="45">...</text><text x="6" y="70">&lt; 5</text><text class="r" x="153" y="70">13 rows</text><text class="r" x="206.7" y="70">6 &gt;</text></g>
<g id="SO_HIST_INT_REQ" transform="translate(1377 2342.5)"><rect class="bx" width="199" height="77"/><rect class="hd" width="199" height="29"/><path class="ln" d="M0 29H199M0 53H199M78.7 53V77M156 53V77"/><rect class="ol" width="199" height="77"/><text class="b" x="8" y="20">SO_HIST_INT_REQ</text><text class="r" x="191" y="20">[table]</text><text class="d" x="6" y="45">...</text><text x="6" y="70">&lt; 6</text><text class="r" x="150" y="70">0 rows</text></g>
<g id="SO_INTERVAL_REQ" transform="translate(1374 2447.7)"><rect class="bx" width="204.7" height="77"/><rect class="hd" width="204.7" height="29"/><path class="ln" d="M0 29H204.7M0 53H204.7M67 53V77M167 53V77"/><rect class="ol" width="204.7" height="77"/><text class="b" x="8" y="20">SO_INTERVAL_REQ</text><text class="r" x="196.7" y="20">[table]</text><text class="d" x="6" y="45">...</text><text x="6" y="70">&lt; 6</text><text class="r" x="161" y="70">1,092 rows</text></g>
<g id="SHIFT_PATTERN_SHIFT_LABOR" transform="translate(1329 2553)"><rect class="bx" width="295" height="77"/><rect class="hd" width="295" height="29"/><path class="ln" d="M0 29H295M0 53H295M122.7 53V77M231 53V77"/><rect class="ol" width="295" height="77"/><text class="b" x="8" y="20">SHIFT_PATTERN_SHIFT_LABOR</text><text class="r" x="287" y="20">[table]</text><text class="d" x="6" y="45">...</text><text x="6" y="70">&lt; 9</text><text class="r" x="225" y="70">22 rows</text></g>
<g id="DOCKET_RDR_GRP" transform="translate(1373 2658)"><rect class="bx" width="207" height="77"/><rect class="hd" width="207" height="29"/><path class="ln" d="M0 29H207M0 53H207M82.7 53V77M163 53V77"/><rect class="ol" width="207" height="77"/><text class="b" x="8" y="20">DOCKET_RDR_GRP</text><text class="r" x="199" y="20">[table]</text><text class="d" x="6" y="45">...</text><text x="6" y="70">&lt; 2</text><text class="r" x="157" y="70">0 rows</text></g>
<g id="ES_SHIFT_DETAIL" transform="translate(1379.7 2763.5)"><rect class="bx" width="192.3" height="77"/><rect class="hd" width="192.3" height="29"/><path class="ln" d="M0 29H192.3M0 53H192.3M78.3 53V77M153.3 53V77"/><rect class="ol" width="192.3" height="77"/><text class="b" x="8" y="20">ES_SHIFT_DETAIL</text><text class="r" x="184.3" y="20">[table]</text><text class="d" x="6" y="45">...</text><text x="6" y="70">&lt; 16</text><text class="r" x="147.3" y="70">0 rows</text></g>
<g id="CLOCK_PRESET" transform="translate(1385 2868.7)"><rect class="bx" width="183" height="77"/><rect class="hd" width="183" height="29"/><path class="ln" d="M0 29H183M0 53H183M66.7 53V77M147 53V77"/><rect class="ol" width="183" height="77"/><text class="b" x="8" y="20">CLOCK_PRESET</text><text class="r" x="175" y="20">[table]</text><text class="d" x="6" y="45">...</text><text x="6" y="70">&lt; 6</text><text class="r" x="141" y="70">10 rows</text></g>
<g id="AGG_USER_WRK" transform="translate(1383.7 2974)"><rect class="bx" width="185.3" height="77"/><rect class="hd" width="185.3" height="29"/><path class="ln" d="M0 29H185.3M0 53H185.3M68 53V77M152.3 53V77"/><rect class="ol" width="185.3" height="77"/><text class="b" x="8" y="20">AGG_USER_WRK</text><text class="r" x="177.3" y="20">[table]</text><text class="d" x="6" y="45">...</text><text x="6" y="70">&lt; 13</text><text class="r" x="146.3" y="70">550 rows</text></g>
<g id="EMP_DEF_LAB" transform="translate(1391.7 3080)"><rect class="bx" width="168.3" height="77"/><rect class="hd" width="168.3" height="29"/><path class="ln" d="M0 29H168.3M0 53H168.3M58.3 53V77M134.3 53V77"/><rect class="ol" width="168.3" height="77"/><text class="b" x="8" y="20">EMP_DEF_LAB</text><text class="r" x="160.3" y="20">[table]</text><text class="d" x="6" y="45">...</text><text x="6" y="70">&lt; 7</text><text class="r" x="128.3" y="70">26 rows</text></g>
<g id="DEPARTMENT_RDR_GRP" transform="translate(1353 3185)"><rect class="bx" width="247" height="77"/><rect class="hd" width="247" height="29"/><path class="ln" d="M0 29H247M0 53H247M102.7 53V77M192 53V77"/><rect class="ol" width="247" height="77"/><text class="b" x="8" y="20">DEPARTMENT_RDR_GRP</text><text class="r" x="239" y="20">[table]</text><text class="d" x="6" y="45">...</text><text x="6" y="70">&lt; 2</text><text class="r" x="186" y="70">0 rows</text></g>
<g id="LABOR_SHORTCUT_DTL" transform="translate(1355 3290)"><rect class="bx" width="243.7" height="77"/><rect class="hd" width="243.7" height="29"/><path class="ln" d="M0 29H243.7M0 53H243.7M101 53V77M190 53V77"/><rect class="ol" width="243.7" height="77"/><text class="b" x="8" y="20">LABOR_SHORTCUT_DTL</text><text class="r" x="235.7" y="20">[table]</text><text class="d" x="6" y="45">...</text><text x="6" y="70">&lt; 8</text><text class="r" x="184" y="70">0 rows</text></g>
<g id="RTSS_SHIFT" transform="translate(1399.7 3396)"><rect class="bx" width="152.3" height="77"/><rect class="hd" width="152.3" height="29"/><path class="ln" d="M0 29H152.3M0 53H152.3M49.3 53V77M112.3 53V77"/><rect class="ol" width="152.3" height="77"/><text class="b" x="8" y="20">RTSS_SHIFT</text><text class="r" x="144.3" y="20">[table]</text><text class="d" x="6" y="45">...</text><text x="6" y="70">&lt; 4</text><text class="r" x="106.3" y="70">0 rows</text><text class="r" x="146.3" y="70">1 &gt;</text></g>
<g id="SR_SHIFT_OFFSET" transform="translate(1376 3501)"><rect class="bx" width="200" height="77"/><rect class="hd" width="200" height="29"/><path class="ln" d="M0 29H200M0 53H200M79 53V77M157 53V77"/><rect class="ol" width="200" height="77"/><text class="b" x="8" y="20">SR_SHIFT_OFFSET</text><text class="r" x="192" y="20">[table]</text><text class="d" x="6" y="45">...</text><text x="6" y="70">&lt; 3</text><text class="r" x="151" y="70">0 rows</text></g>
<g id="SR_SUMMARY" transform="translate(1393 3606.7)"><rect class="bx" width="165" height="77"/><rect class="hd" width="165" height="29"/><path class="ln" d="M0 29H165M0 53H165M56 53V77M124 53V77"/><rect class="ol" width="165" height="77"/><text class="b" x="8" y="20">SR_SUMMARY</text><text class="r" x="157" y="20">[table]</text><text class="d" x="6" y="45">...</text><text x="6" y="70">&lt; 7</text><text class="r" x="118" y="70">0 rows</text><text class="r" x="159" y="70">2 &gt;</text></g>
<g id="UNSTFD_SHIFT" transform="translate(1389 3711)"><rect class="bx" width="173.5" height="77"/><rect class="hd" width="173.5" height="29"/><path class="ln" d="M0 29H173.5M0 53H173.5M66 53V77M137 53V77"/><rect class="ol" width="173.5" height="77"/><text class="b" x="8" y="20">UNSTFD_SHIFT</text><text class="r" x="165.5" y="20">[table]</text><text class="d" x="6" y="45">...</text><text x="6" y="70">&lt; 9</text><text class="r" x="131" y="70">0 rows</text></g>
<g id="SCHED_COST_DETAIL" transform="translate(1363.5 3817)"><rect class="bx" width="224.5" height="77"/><rect class="hd" width="224.5" height="29"/><path class="ln" d="M0 29H224.5M0 53H224.5M91.5 53V77M174.5 53V77"/><rect class="ol" width="224.5" height="77"/><text class="b" x="8" y="20">SCHED_COST_DETAIL</text><text class="r" x="216.5" y="20">[table]</text><text class="d" x="6" y="45">...</text><text x="6" y="70">&lt; 8</text><text class="r" x="168.5" y="70">0 rows</text></g>
<g id="WORK_DETAIL" transform="translate(1391.7 3923)"><rect class="bx" width="168.3" height="77"/><rect class="hd" width="168.3" height="29"/><path class="ln" d="M0 29H168.3M0 53H168.3M50 53V77M140 53V77"/><rect class="ol" width="168.3" height="77"/><text class="b" x="8" y="20">WORK_DETAIL</text><text class="r" x="160.3" y="20">[table]</text><text class="d" x="6" y="45">...</text><text x="6" y="70">&lt; 8</text><text class="r" x="134" y="70">1,735 rows</text></g>
<g id="ES_ROW_LM" transform="translate(1399.7 4027.7)"><rect class="bx" width="153.3" height="77"/><rect class="hd" width="153.3" height="29"/><path class="ln" d="M0 29H153.3M0 53H153.3M49.3 53V77M113.3 53V77"/><rect class="ol" width="153.3" height="77"/><text class="b" x="8" y="20">ES_ROW_LM</text><text class="r" x="145.3" y="20">[table]</text><text class="d" x="6" y="45">...</text><text x="6" y="70">&lt; 9</text><text class="r" x="107.3" y="70">0 rows</text><text class="r" x="147.3" y="70">1 &gt;</text></g>
<g id="MP_DAILY_OVERRIDE" transform="translate(1367 4133.5)"><rect class="bx" width="219.6" height="77"/><rect class="hd" width="219.6" height="29"/><path class="ln" d="M0 29H219.6M0 53H219.6M89 53V77M171 53V77"/><rect class="ol" width="219.6" height="77"/><text class="b" x="8" y="20">MP_DAILY_OVERRIDE</text><text class="r" x="211.6" y="20">[table]</text><text class="d" x="6" y="45">...</text><text x="6" y="70">&lt; 4</text><text class="r" x="165" y="70">0 rows</text></g>
<g id="MP_TEMPLATE_OVERRIDE" transform="translate(1347.9 4239)"><rect class="bx" width="256.9" height="77"/><rect class="hd" width="256.9" height="29"/><path class="ln" d="M0 29H256.9M0 53H256.9M107.1 53V77M200.1 53V77"/><rect class="ol" width="256.9" height="77"/><text class="b" x="8" y="20">MP_TEMPLATE_OVERRIDE</text><text class="r" x="248.9" y="20">[table]</text><text class="d" x="6" y="45">...</text><text x="6" y="70">&lt; 4</text><text class="r" x="194.1" y="70">0 rows</text></g>
<g id="MP_TEMPLATE_REQUIREMENT" transform="translate(1330 4344)"><rect class="bx" width="292" height="77"/><rect class="hd" width="292" height="29"/><path class="ln" d="M0 29H292M0 53H292M126 53V77M228 53V77"/><rect class="ol" width="292" height="77"/><text class="b" x="8" y="20">MP_TEMPLATE_REQUIREMENT</text><text class="r" x="284" y="20">[table]</text><text class="d" x="6" y="45">...</text><text x="6" y="70">&lt; 4</text><text class="r" x="222" y="70">0 rows</text></g>
<g id="ES_ROTROW_CONFLICTS" transform="translate(1350 4450)"><rect class="bx" width="252" height="77"/><rect class="hd" width="252" height="29"/><path class="ln" d="M0 29H252M0 53H252M106 53V77M196 53V77"/><rect class="ol" width="252" height="77"/><text class="b" x="8" y="20">ES_ROTROW_CONFLICTS</text><text class="r" x="244" y="20">[table]</text><text class="d" x="6" y="45">...</text><text x="6" y="70">&lt; 8</text><text class="r" x="190" y="70">0 rows</text></g>
<g id="SO_EVENT_DETAIL" transform="translate(1376 4555.7)"><rect class="bx" width="200" height="77"/><rect class="hd" width="200" height="29"/><path class="ln" d="M0 29H200M0 53H200M73 53V77M147.7 53V77"/><rect class="ol" width="200" height="77"/><text class="b" x="8" y="20">SO_EVENT_DETAIL</text><text class="r" x="192" y="20">[table]</text><text class="d" x="6" y="45">...</text><text x="6" y="70">&lt; 7</text><text class="r" x="141.7" y="70">6 rows</text><text class="r" x="194" y="70">1 &gt;</text></g>
<g id="CS_STAFFING_LEVEL" transform="translate(1368 4660)"><rect class="bx" width="217.6" height="77"/><rect class="hd" width="217.6" height="29"/><path class="ln" d="M0 29H217.6M0 53H217.6M88 53V77M170 53V77"/><rect class="ol" width="217.6" height="77"/><text class="b" x="8" y="20">CS_STAFFING_LEVEL</text><text class="r" x="209.6" y="20">[table]</text><text class="d" x="6" y="45">...</text><text x="6" y="70">&lt; 4</text><text class="r" x="164" y="70">0 rows</text></g>
<g id="CRIT_CLAUSE_JOB" transform="translate(1375 4766)"><rect class="bx" width="202.6" height="77"/><rect class="hd" width="202.6" height="29"/><path class="ln" d="M0 29H202.6M0 53H202.6M80 53V77M158 53V77"/><rect class="ol" width="202.6" height="77"/><text class="b" x="8" y="20">CRIT_CLAUSE_JOB</text><text class="r" x="194.6" y="20">[table]</text><text class="d" x="6" y="45">...</text><text x="6" y="70">&lt; 2</text><text class="r" x="152" y="70">0 rows</text></g>
<g id="ES_JOB_ASSOCIATION" transform="translate(1362.5 4870.8)"><rect class="bx" width="228.2" height="77"/><rect class="hd" width="228.2" height="29"/><path class="ln" d="M0 29H228.2M0 53H228.2M93.5 53V77M178.5 53V77"/><rect class="ol" width="228.2" height="77"/><text class="b" x="8" y="20">ES_JOB_ASSOCIATION</text><text class="r" x="220.2" y="20">[table]</text><text class="d" x="6" y="45">...</text><text x="6" y="70">&lt; 2</text><text class="r" x="172.5" y="70">0 rows</text></g>
<g id="ES_STAFFING_REQ" transform="translate(1375 4976.6)"><rect class="bx" width="202.6" height="77"/><rect class="hd" width="202.6" height="29"/><path class="ln" d="M0 29H202.6M0 53H202.6M80 53V77M158 53V77"/><rect class="ol" width="202.6" height="77"/><text class="b" x="8" y="20">ES_STAFFING_REQ</text><text class="r" x="194.6" y="20">[table]</text><text class="d" x="6" y="45">...</text><text x="6" y="70">&lt; 3</text><text class="r" x="152" y="70">0 rows</text></g>
<g id="ES_TMPL_SHIFT_REQ" transform="translate(1365.5 5082.5)"><rect class="bx" width="222.5" height="77"/><rect class="hd" width="222.5" height="29"/><path class="ln" d="M0 29H222.5M0 53H222.5M83.5 53V77M165.2 53V77"/><rect class="ol" width="222.5" height="77"/><text class="b" x="8" y="20">ES_TMPL_SHIFT_REQ</text><text class="r" x="214.5" y="20">[table]</text><text class="d" x="6" y="45">...</text><text x="6" y="70">&lt; 3</text><text class="r" x="159.2" y="70">0 rows</text><text class="r" x="216.5" y="70">1 &gt;</text></g>
<g id="ES_TMPL_STAFF_REQ" transform="translate(1364.5 5187)"><rect class="bx" width="224.5" height="77"/><rect class="hd" width="224.5" height="29"/><path class="ln" d="M0 29H224.5M0 53H224.5M84.5 53V77M167.2 53V77"/><rect class="ol" width="224.5" height="77"/><text class="b" x="8" y="20">ES_TMPL_STAFF_REQ</text><text class="r" x="216.5" y="20">[table]</text><text class="d" x="6" y="45">...</text><text x="6" y="70">&lt; 3</text><text class="r" x="161.2" y="70">0 rows</text><text class="r" x="218.5" y="70">2 &gt;</text></g>
<g id="JOB_RATE" transform="translate(1406.8 5291.7)"><rect class="bx" width="138.7" height="77"/><rect class="hd" width="138.7" height="29"/><path class="ln" d="M0 29H138.7M0 53H138.7M47.8 53V77M110.2 53V77"/><rect class="ol" width="138.7" height="77"/><text class="b" x="8" y="20">JOB_RATE</text><text class="r" x="130.7" y="20">[table]</text><text class="d" x="6" y="45">...</text><text x="6" y="70">&lt; 1</text><text class="r" x="104.2" y="70">6 rows</text></g>
<g id="JOB_RDR_GRP" transform="translate(1391 5396.7)"><rect class="bx" width="172" height="77"/><rect class="hd" width="172" height="29"/><path class="ln" d="M0 29H172M0 53H172M69 53V77M134 53V77"/><rect class="ol" width="172" height="77"/><text class="b" x="8" y="20">JOB_RDR_GRP</text><text class="r" x="164" y="20">[table]</text><text class="d" x="6" y="45">...</text><text x="6" y="70">&lt; 2</text><text class="r" x="128" y="70">1 row</text></g>
<g id="SB_SCHD_BID_SPAT" transform="translate(1370.8 5501.7)"><rect class="bx" width="212" height="77"/><rect class="hd" width="212" height="29"/><path class="ln" d="M0 29H212M0 53H212M83 53V77M154.2 53V77"/><rect class="ol" width="212" height="77"/><text class="b" x="8" y="20">SB_SCHD_BID_SPAT</text><text class="r" x="204" y="20">[table]</text><text class="d" x="6" y="45">...</text><text x="6" y="70">&lt; 3</text><text class="r" x="148.2" y="70">1 row</text><text class="r" x="206" y="70">2 &gt;</text></g>
<g id="SO_CLIENTYP_STFDEF" transform="translate(1360 5608)"><rect class="bx" width="232" height="77"/><rect class="hd" width="232" height="29"/><path class="ln" d="M0 29H232M0 53H232M94.6 53V77M181.5 53V77"/><rect class="ol" width="232" height="77"/><text class="b" x="8" y="20">SO_CLIENTYP_STFDEF</text><text class="r" x="224" y="20">[table]</text><text class="d" x="6" y="45">...</text><text x="6" y="70">&lt; 4</text><text class="r" x="175.5" y="70">0 rows</text></g>
<g id="SO_POSN_SET_ELMTS" transform="translate(1361 5713)"><rect class="bx" width="231" height="77"/><rect class="hd" width="231" height="29"/><path class="ln" d="M0 29H231M0 53H231M94.5 53V77M180.5 53V77"/><rect class="ol" width="231" height="77"/><text class="b" x="8" y="20">SO_POSN_SET_ELMTS</text><text class="r" x="223" y="20">[table]</text><text class="d" x="6" y="45">...</text><text x="6" y="70">&lt; 2</text><text class="r" x="174.5" y="70">0 rows</text></g>
<g id="SO_SHIFT_REQ" transform="translate(1389 5818)"><rect class="bx" width="175" height="77"/><rect class="hd" width="175" height="29"/><path class="ln" d="M0 29H175M0 53H175M66.5 53V77M139 53V77"/><rect class="ol" width="175" height="77"/><text class="b" x="8" y="20">SO_SHIFT_REQ</text><text class="r" x="167" y="20">[table]</text><text class="d" x="6" y="45">...</text><text x="6" y="70">&lt; 6</text><text class="r" x="133" y="70">0 rows</text></g>
<g id="ST_JOB_SKILL" transform="translate(1392 5923)"><rect class="bx" width="169" height="77"/><rect class="hd" width="169" height="29"/><path class="ln" d="M0 29H169M0 53H169M63.5 53V77M135 53V77"/><rect class="ol" width="169" height="77"/><text class="b" x="8" y="20">ST_JOB_SKILL</text><text class="r" x="161" y="20">[table]</text><text class="d" x="6" y="45">...</text><text x="6" y="70">&lt; 2</text><text class="r" x="129" y="70">0 rows</text></g>
<g id="TARGET_DETAIL_JOB" transform="translate(1364.7 6029)"><rect class="bx" width="222.3" height="77"/><rect class="hd" width="222.3" height="29"/><path class="ln" d="M0 29H222.3M0 53H222.3M89.9 53V77M174.3 53V77"/><rect class="ol" width="222.3" height="77"/><text class="b" x="8" y="20">TARGET_DETAIL_JOB</text><text class="r" x="214.3" y="20">[table]</text><text class="d" x="6" y="45">...</text><text x="6" y="70">&lt; 2</text><text class="r" x="168.3" y="70">0 rows</text></g>
<g id="TM_ACTIONITEM_JOB" transform="translate(1363.8 6134)"><rect class="bx" width="224.2" height="77"/><rect class="hd" width="224.2" height="29"/><path class="ln" d="M0 29H224.2M0 53H224.2M90.8 53V77M175.2 53V77"/><rect class="ol" width="224.2" height="77"/><text class="b" x="8" y="20">TM_ACTIONITEM_JOB</text><text class="r" x="216.2" y="20">[table]</text><text class="d" x="6" y="45">...</text><text x="6" y="70">&lt; 2</text><text class="r" x="169.2" y="70">0 rows</text></g>
<g id="EMPLOYEE_JOB" transform="translate(1385 6239)"><rect class="bx" width="183" height="77"/><rect class="hd" width="183" height="29"/><path class="ln" d="M0 29H183M0 53H183M67 53V77M147 53V77"/><rect class="ol" width="183" height="77"/><text class="b" x="8" y="20">EMPLOYEE_JOB</text><text class="r" x="175" y="20">[table]</text><text class="d" x="6" y="45">...</text><text x="6" y="70">&lt; 2</text><text class="r" x="141" y="70">18 rows</text></g>
<g id="EMPLOYEE_JOB_POSTING" transform="translate(1346 6345)"><rect class="bx" width="261" height="77"/><rect class="hd" width="261" height="29"/><path class="ln" d="M0 29H261M0 53H261M109.5 53V77M203 53V77"/><rect class="ol" width="261" height="77"/><text class="b" x="8" y="20">EMPLOYEE_JOB_POSTING</text><text class="r" x="253" y="20">[table]</text><text class="d" x="6" y="45">...</text><text x="6" y="70">&lt; 2</text><text class="r" x="197" y="70">0 rows</text></g>
<g id="ES_CLIST_EMPLOYEE" transform="translate(1363.8 6450)"><rect class="bx" width="224.2" height="77"/><rect class="hd" width="224.2" height="29"/><path class="ln" d="M0 29H224.2M0 53H224.2M90.8 53V77M175.2 53V77"/><rect class="ol" width="224.2" height="77"/><text class="b" x="8" y="20">ES_CLIST_EMPLOYEE</text><text class="r" x="216.2" y="20">[table]</text><text class="d" x="6" y="45">...</text><text x="6" y="70">&lt; 3</text><text class="r" x="169.2" y="70">0 rows</text></g>
<g id="SO_SHIFT_DETAIL" transform="translate(1378.7 6555)"><rect class="bx" width="194.3" height="77"/><rect class="hd" width="194.3" height="29"/><path class="ln" d="M0 29H194.3M0 53H194.3M66.3 53V77M147 53V77"/><rect class="ol" width="194.3" height="77"/><text class="b" x="8" y="20">SO_SHIFT_DETAIL</text><text class="r" x="186.3" y="20">[table]</text><text class="d" x="6" y="45">...</text><text x="6" y="70">&lt; 7</text><text class="r" x="141" y="70">95 rows</text><text class="r" x="188.3" y="70">1 &gt;</text></g>
<g id="AS_EMP_TEAM_PRIORITY_BY_SHIFT" transform="translate(1310 6660)"><rect class="bx" width="331" height="77"/><rect class="hd" width="331" height="29"/><path class="ln" d="M0 29H331M0 53H331M144.6 53V77M255 53V77"/><rect class="ol" width="331" height="77"/><text class="b" x="7" y="20">AS_EMP_TEAM_PRIORITY_BY_SHIFT</text><text class="r" x="324" y="20">[table]</text><text class="d" x="6" y="45">...</text><text x="6" y="70">&lt; 5</text><text class="r" x="249" y="70">0 rows</text></g>
<g id="ES_SHIFT_TYPE_TEAM" transform="translate(1361 6766)"><rect class="bx" width="229.7" height="77"/><rect class="hd" width="229.7" height="29"/><path class="ln" d="M0 29H229.7M0 53H229.7M98 53V77M178 53V77"/><rect class="ol" width="229.7" height="77"/><text class="b" x="8" y="20">ES_SHIFT_TYPE_TEAM</text><text class="r" x="221.7" y="20">[table]</text><text class="d" x="6" y="45">...</text><text x="6" y="70">&lt; 3</text><text class="r" x="172" y="70">1 row</text></g>
<g id="ES_WORKLOAD_REQ" transform="translate(1367.8 6871)"><rect class="bx" width="216.2" height="77"/><rect class="hd" width="216.2" height="29"/><path class="ln" d="M0 29H216.2M0 53H216.2M86.8 53V77M169.2 53V77"/><rect class="ol" width="216.2" height="77"/><text class="b" x="8" y="20">ES_WORKLOAD_REQ</text><text class="r" x="208.2" y="20">[table]</text><text class="d" x="6" y="45">...</text><text x="6" y="70">&lt; 4</text><text class="r" x="163.2" y="70">0 rows</text></g>
<g id="JOB_TEAM" transform="translate(1406.8 6977.6)"><rect class="bx" width="139.2" height="77"/><rect class="hd" width="139.2" height="29"/><path class="ln" d="M0 29H139.2M0 53H139.2M42.2 53V77M102.2 53V77"/><rect class="ol" width="139.2" height="77"/><text class="b" x="8" y="20">JOB_TEAM</text><text class="r" x="131.2" y="20">[table]</text><text class="d" x="6" y="45">...</text><text x="6" y="70">&lt; 2</text><text class="r" x="96.2" y="70">9 rows</text><text class="r" x="133.2" y="70">1 &gt;</text></g>

<text x="17" y="7219">Generated by SchemaSpy</text>
</svg>
